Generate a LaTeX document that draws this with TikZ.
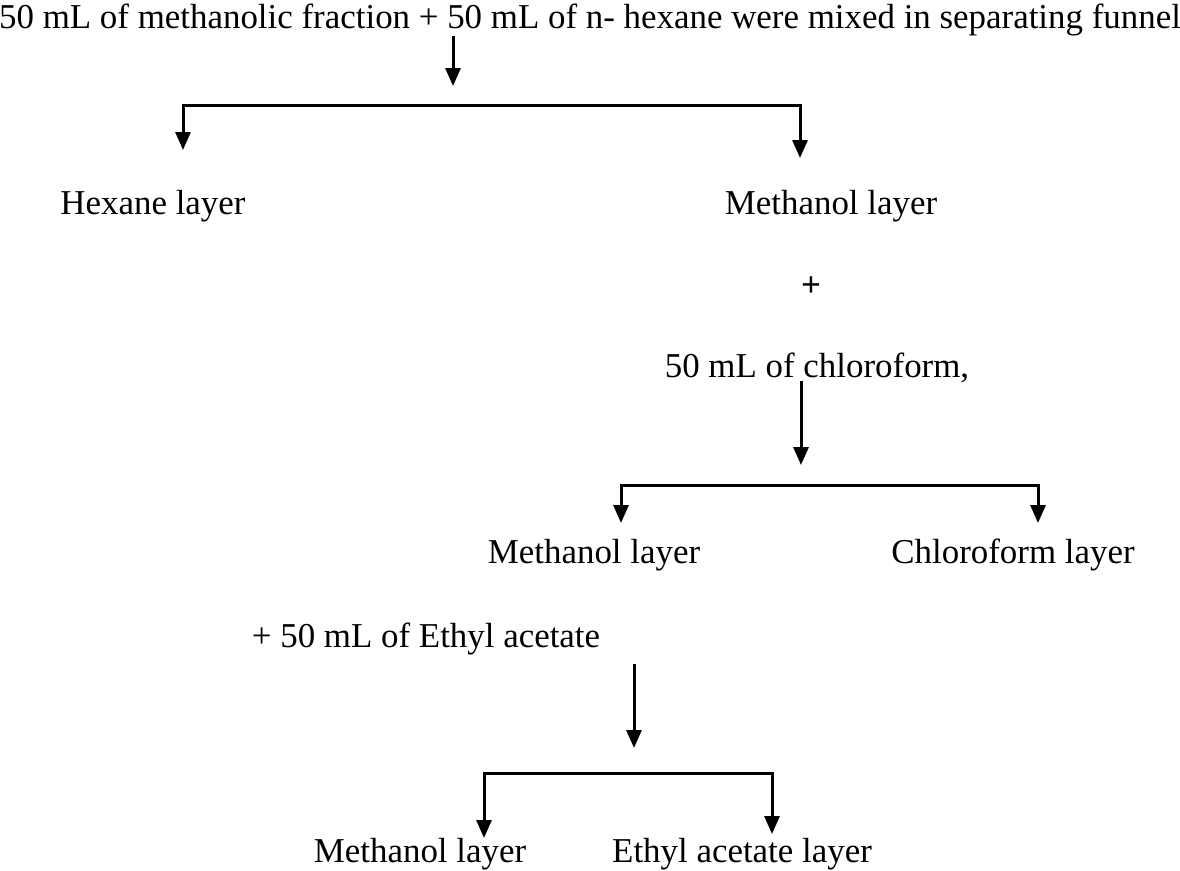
\documentclass[tikz,border=0pt]{standalone}
\usepackage{fontspec}
\setmainfont{Liberation Serif}
\usetikzlibrary{arrows.meta}
\begin{document}
\begin{tikzpicture}[x=1pt,y=-1pt,
  lbl/.style={anchor=base,inner sep=0pt,font=\fontsize{34.9}{40}\selectfont},
  conn/.style={line width=3pt,-{Triangle[width=15pt,length=18pt]}},
  bar/.style={line width=3pt,line cap=rect}]
\useasboundingbox (0,0) rectangle (1180,870);
\node[lbl] (top) at (590,28) {50 mL of methanolic fraction + 50 mL of n- hexane were mixed in separating funnel};
\coordinate (a1s) at (453,36);
\coordinate (a1e) at (453,86);
\draw[conn] (a1s) -- (a1e);
\coordinate (b1l) at (183,105);
\coordinate (b1r) at (800,105);
\coordinate (t1l) at (183,150);
\coordinate (t1r) at (800,158);
\draw[bar] (b1l) -- (b1r);
\draw[conn] (b1l) -- (t1l);
\draw[conn] (b1r) -- (t1r);
\node[lbl] (hex) at (153,214) {Hexane layer};
\node[lbl] (meth1) at (831,214) {Methanol layer};
\node[lbl,font=\fontsize{34.9}{40}\selectfont\bfseries] (plus) at (811,296) {+};
\node[lbl] (chl) at (817,377) {50 mL of chloroform,};
\coordinate (a2s) at (801,381);
\coordinate (a2e) at (801,465);
\draw[conn] (a2s) -- (a2e);
\coordinate (b2l) at (621,485);
\coordinate (b2r) at (1038,485);
\coordinate (t2l) at (621,523);
\coordinate (t2r) at (1038,523);
\draw[bar] (b2l) -- (b2r);
\draw[conn] (b2l) -- (t2l);
\draw[conn] (b2r) -- (t2r);
\node[lbl] (meth2) at (594,563) {Methanol layer};
\node[lbl] (chll) at (1013,563) {Chloroform layer};
\node[lbl] (ea) at (426,647) {+ 50 mL of Ethyl acetate};
\coordinate (a3s) at (634,664);
\coordinate (a3e) at (634,748);
\draw[conn] (a3s) -- (a3e);
\coordinate (b3l) at (484,773);
\coordinate (b3r) at (772,773);
\coordinate (t3l) at (484,838);
\coordinate (t3r) at (772,834);
\draw[bar] (b3l) -- (b3r);
\draw[conn] (b3l) -- (t3l);
\draw[conn] (b3r) -- (t3r);
\node[lbl] (meth3) at (420,862) {Methanol layer};
\node[lbl] (eal) at (742,862) {Ethyl acetate layer};
\end{tikzpicture}
\end{document}
